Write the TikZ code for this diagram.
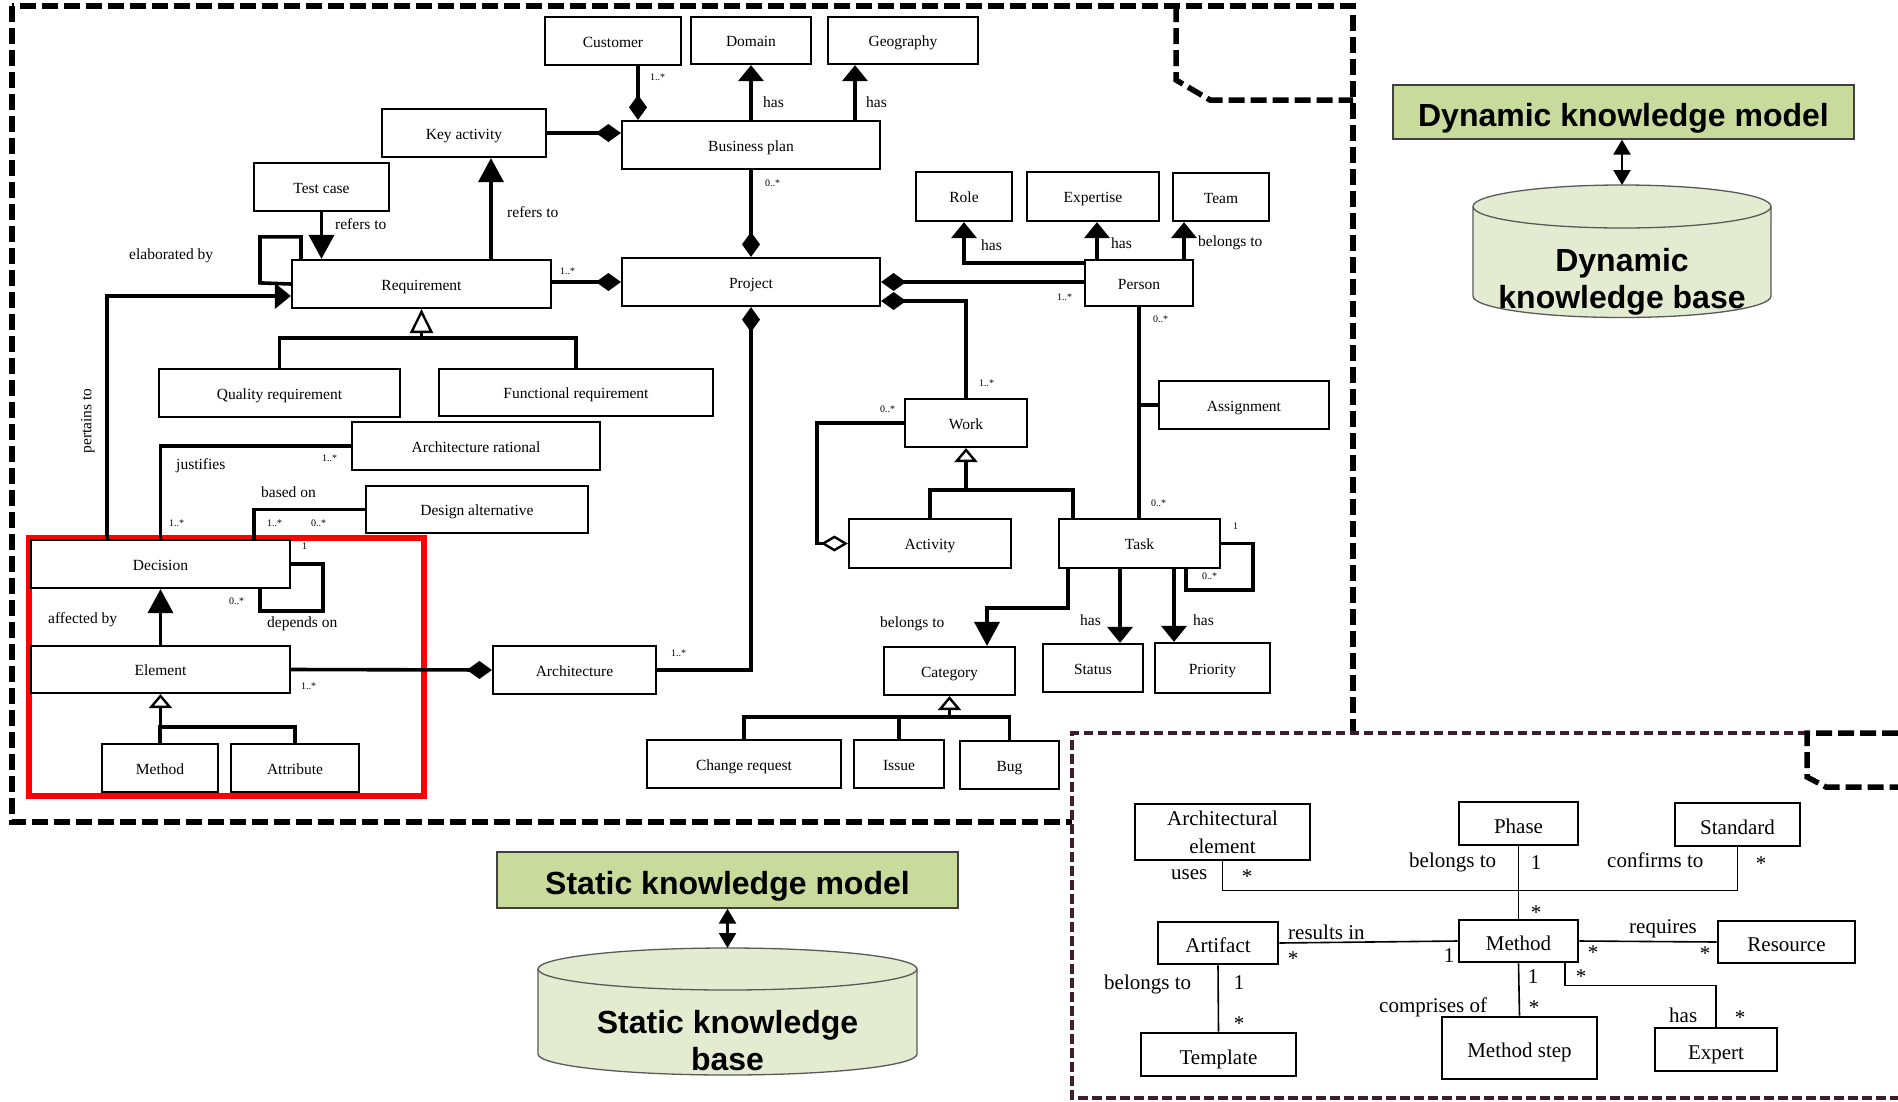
\documentclass[tikz,border=0pt]{standalone}
\usepackage{fontspec}
\setmainfont{Liberation Serif}
\newfontfamily\headfont{Liberation Sans}
\usetikzlibrary{arrows.meta}

\definecolor{kmfill}{RGB}{200,218,156}
\definecolor{kbfill}{RGB}{227,236,208}
\definecolor{mframecol}{RGB}{62,28,46}

\begin{document}
\begin{tikzpicture}[x=1pt,y=-1pt,
    cls/.style={draw,line width=2.2pt,fill=white,inner sep=0pt,text height=12pt,text depth=0pt,font=\fontsize{15.5}{18}\selectfont},
    mcls/.style={draw,line width=2.6pt,fill=white,inner sep=0pt,align=center,font=\fontsize{21}{28}\selectfont},
    mone/.style={mcls,text height=19pt,text depth=0pt},
    km/.style={draw=black!75,line width=1.3pt,fill=kmfill,inner sep=0pt,text height=28pt,text depth=0pt,font=\headfont\bfseries\fontsize{32}{37}\selectfont},
    kbtext/.style={inner sep=0pt,align=center,font=\headfont\bfseries\fontsize{32}{37}\selectfont},
    lbl/.style={inner sep=0pt,anchor=west,font=\fontsize{15.5}{18}\selectfont},
    mult/.style={inner sep=0pt,anchor=west,font=\fontsize{10}{12}\selectfont},
    mlbl/.style={inner sep=0pt,anchor=west,font=\fontsize{21}{25}\selectfont},
    mnum/.style={inner sep=0pt,font=\fontsize{21}{25}\selectfont},
    rel/.style={line width=3.6pt},
    mrel/.style={line width=1.6pt},
    tip/.style={rel,-{Triangle[length=24pt,width=25pt]}},
    stip/.style={rel,-{Triangle[length=16pt,width=25pt]}},
    comp/.style={rel,{Diamond[length=25pt,width=18pt]}-},
    agg/.style={rel,{Diamond[open,length=27pt,width=16pt,line width=2.4pt,fill=white]}-},
    gen/.style={rel,-{Triangle[open,length=14pt,width=23pt,line width=2.4pt,fill=white]}},
    tallgen/.style={rel,-{Triangle[open,length=24pt,width=23pt,line width=2.4pt,fill=white]}},
    frame/.style={line width=5.5pt,dash pattern=on 16pt off 6pt},
    mframe/.style={draw=mframecol,line width=3.5pt,dash pattern=on 9.5pt off 4.5pt},
    kbarrow/.style={line width=2.5pt,{Triangle[length=15pt,width=17pt]}-{Triangle[length=15pt,width=17pt]}}
  ]
  \useasboundingbox (0,0) rectangle (1898,1101);

  % Frames
  \draw[frame] (12,6) rectangle (1353,822);
  \draw[frame] (1176,6) -- (1176,80) -- (1210,100) -- (1353,100);
  \draw[red,line width=6pt] (29,538) rectangle (424,796);
  \fill[white] (1072,733) rectangle (1898,1101);
  \draw[mframe] (1807,733) -- (1072,733) -- (1072,1098) -- (1898,1098);
  \draw[frame] (1898,733) -- (1807,733) -- (1807,777) -- (1826,787) -- (1898,787);

  % Nodes
  \node[cls,minimum width=136pt,minimum height=48pt] (customer) at (613,41) {Customer};
  \node[cls,minimum width=120pt,minimum height=47pt] (domain) at (751,40.5) {Domain};
  \node[cls,minimum width=150pt,minimum height=47pt] (geography) at (903,40.5) {Geography};
  \node[cls,minimum width=258pt,minimum height=48pt] (bplan) at (751,145) {Business plan};
  \node[cls,minimum width=164pt,minimum height=48pt] (keyact) at (464,133) {Key activity};
  \node[cls,minimum width=135pt,minimum height=48pt] (testcase) at (321.5,187) {Test case};
  \node[cls,minimum width=259pt,minimum height=48pt] (req) at (421.5,284) {Requirement};
  \node[cls,minimum width=258pt,minimum height=48pt] (proj) at (751,282) {Project};
  \node[cls,minimum width=96pt,minimum height=49pt] (role) at (964,196.5) {Role};
  \node[cls,minimum width=132pt,minimum height=49pt] (expertise) at (1093,196.5) {Expertise};
  \node[cls,minimum width=96pt,minimum height=48pt] (team) at (1221,197) {Team};
  \node[cls,minimum width=108pt,minimum height=46pt] (person) at (1139,283) {Person};
  \node[cls,minimum width=241pt,minimum height=48pt] (qualreq) at (279.5,393) {Quality requirement};
  \node[cls,minimum width=274pt,minimum height=47pt] (funcreq) at (576,392.5) {Functional requirement};
  \node[cls,minimum width=248pt,minimum height=48pt] (archrat) at (476,446) {Architecture rational};
  \node[cls,minimum width=222pt,minimum height=47pt] (designalt) at (477,509.5) {Design alternative};
  \node[cls,minimum width=170pt,minimum height=48pt] (assign) at (1244,405) {Assignment};
  \node[cls,minimum width=122pt,minimum height=48pt] (work) at (966,423) {Work};
  \node[cls,minimum width=162pt,minimum height=49pt] (activity) at (930,543.5) {Activity};
  \node[cls,minimum width=161pt,minimum height=49pt] (task) at (1139.5,543.5) {Task};
  \node[cls,minimum width=259pt,minimum height=48pt] (decision) at (160.5,564) {Decision};
  \node[cls,minimum width=259pt,minimum height=47pt] (element) at (160.5,669.5) {Element};
  \node[cls,minimum width=116pt,minimum height=48pt] (method) at (160,768) {Method};
  \node[cls,minimum width=128pt,minimum height=48pt] (attribute) at (295,768) {Attribute};
  \node[cls,minimum width=163pt,minimum height=48pt] (architecture) at (574.5,670) {Architecture};
  \node[cls,minimum width=131pt,minimum height=48pt] (category) at (949.5,671) {Category};
  \node[cls,minimum width=100pt,minimum height=48pt] (status) at (1093,668) {Status};
  \node[cls,minimum width=115pt,minimum height=50pt] (priority) at (1212.5,668) {Priority};
  \node[cls,minimum width=194pt,minimum height=48pt] (changereq) at (744,764) {Change request};
  \node[cls,minimum width=90pt,minimum height=48pt] (issue) at (899,764) {Issue};
  \node[cls,minimum width=99pt,minimum height=48pt] (bug) at (1009.5,765) {Bug};

  \node[mcls,minimum width=175pt,minimum height=56pt] (archelem) at (1222.5,832) {Architectural\\element};
  \node[mone,minimum width=119pt,minimum height=43pt] (phase) at (1518.5,823.5) {Phase};
  \node[mone,minimum width=125pt,minimum height=43pt] (standard) at (1737.5,824.5) {Standard};
  \node[mone,minimum width=119pt,minimum height=42pt] (mmethod) at (1518.5,941) {Method};
  \node[mone,minimum width=120pt,minimum height=42pt] (artifact) at (1218,943) {Artifact};
  \node[mone,minimum width=137pt,minimum height=42pt] (resource) at (1786.5,942) {Resource};
  \node[mone,minimum width=155pt,minimum height=62pt] (methodstep) at (1519.5,1048) {Method step};
  \node[mone,minimum width=122pt,minimum height=43pt] (expert) at (1716,1049.5) {Expert};
  \node[mone,minimum width=155pt,minimum height=43pt] (template) at (1218.5,1054.5) {Template};

  \node[km,minimum width=461pt,minimum height=56pt] (skm) at (727.5,880) {Static knowledge model};
  \node[km,minimum width=461pt,minimum height=54pt] (dkm) at (1623.5,112) {Dynamic knowledge model};

  % Knowledge bases
  \path[draw=black!65,fill=kbfill,line width=1.3pt] (538,969) -- (538,1054)
    arc[start angle=180,end angle=0,x radius=189.5,y radius=21] -- (917,969)
    arc[start angle=0,end angle=-180,x radius=189.5,y radius=21] -- cycle;
  \draw[black!65,line width=1.3pt] (538,969) arc[start angle=180,end angle=0,x radius=189.5,y radius=21];
  \coordinate (skbtop) at (727.5,948);
  \node[kbtext] (skb) at (727.5,1041) {Static knowledge\\base};

  \path[draw=black!65,fill=kbfill,line width=1.3pt] (1473,206.5) -- (1473,296)
    arc[start angle=180,end angle=0,x radius=149,y radius=21.5] -- (1771,206.5)
    arc[start angle=0,end angle=-180,x radius=149,y radius=21.5] -- cycle;
  \draw[black!65,line width=1.3pt] (1473,206.5) arc[start angle=180,end angle=0,x radius=149,y radius=21.5];
  \coordinate (dkbtop) at (1622,185);
  \node[kbtext] (dkb) at (1622,282) {Dynamic\\knowledge base};

  \draw[kbarrow] (skm.south) -- (skbtop);
  \draw[kbarrow] ([xshift=-1.5pt]dkm.south) -- (dkbtop);

  % Edges
  \draw[tip] (testcase.south) -- (testcase.south |- req.north);
  \draw[tip] ([xshift=69.5pt]req.north) -- ([xshift=27pt]keyact.south);
  \draw[comp] ([yshift=12pt]bplan.west) -- (keyact.east);
  \draw[comp] ([xshift=-113pt]bplan.north) -- ([xshift=25pt]customer.south);
  \draw[stip] (bplan.north) -- (domain.south);
  \draw[stip] ([xshift=104pt]bplan.north) -- ([xshift=-48pt]geography.south);
  \draw[comp] (proj.north) -- (bplan.south);
  \draw[comp] (proj.west) -- (proj.west -| req.east);
  \draw[comp] (proj.east) -- (proj.east -| person.west);
  \draw[stip] ([yshift=20pt]person.west) -| (role.south);
  \draw[stip] ([xshift=-42pt]person.north) -- ([xshift=4pt]expertise.south);
  \draw[stip] ([xshift=45pt]person.north) -- ([xshift=-37pt]team.south);
  \draw[comp] ([yshift=-19pt]proj.east) -| (work.north);
  \draw[comp] (proj.south) |- (architecture.east);
  \draw[rel] (person.south) -- (person.south |- task.north);
  \draw[rel] (assign.west) -- (assign.west -| person.south);
  \draw[agg] (activity.west) -- ++(-31,0) |- (work.west);
  \draw[rel] (activity.north) -- ++(0,-28) -| ([xshift=-66.5pt]task.north);
  \draw[gen] ([yshift=-44pt]work.south) -- (work.south);
  \draw[tip] ([xshift=-71.5pt]task.south) -- ++(0,39) -| ([xshift=37.5pt]category.north);
  \draw[rel] (changereq.north) -- ++(0,-22) -| (bug.north);
  \draw[rel] (issue.north) -- ++(0,-22);
  \draw[gen] ([yshift=-23pt]category.south) -- (category.south);
  \draw[stip] ([xshift=-19.5pt]task.south) -- ([xshift=27pt]status.north);
  \draw[stip] ([xshift=34.5pt]task.south) -- ([xshift=-38.5pt]priority.north);
  \draw[rel] (task.east) -| ++(32,46.5) -| ([xshift=46.5pt]task.south);
  \draw[rel] ([xshift=-120.5pt]req.north) -- ++(0,-22) -| ++(-41,46) -- (req.west);
  \draw[stip] ([xshift=-53.5pt]decision.north) |- ([yshift=-12pt]req.west);
  \draw[rel] (qualreq.north) -- ++(0,-30) -| (funcreq.north);
  \draw[tallgen] ([yshift=-31pt]req.south) -- (req.south);
  \draw[rel] (archrat.west) -| (decision.north);
  \draw[rel] (designalt.west) -| ([xshift=93.5pt]decision.north);
  \draw[rel] (decision.east) -| ++(32,47) -| ([xshift=99.5pt]decision.south);
  \draw[tip] (element.north) -- (decision.south);
  \draw[comp] (architecture.west) -- (element.east);
  \draw[rel] (method.north) -- ++(0,-16) -| (attribute.north);
  \draw[gen] ([yshift=-35pt]element.south) -- (element.south);

  \draw[mrel] (archelem.south) -- ++(0,29) -| (standard.south);
  \draw[mrel] (phase.south) -- (mmethod.north);
  \draw[mrel] (artifact.east) -- (mmethod.west);
  \draw[mrel] (mmethod.east) -- (resource.west);
  \draw[mrel] (mmethod.south) -- (methodstep.north);
  \draw[mrel] ([xshift=46.5pt]mmethod.south) -- ++(0,22) -| (expert.north);
  \draw[mrel] (artifact.south) -- (template.north);

  % Labels
  \node[lbl] (t01) at (335,224) {refers to};
  \node[lbl] (t02) at (507,212) {refers to};
  \node[lbl] (t03) at (129,256) {elaborated by};
  \node[lbl] (t04) at (763,102) {has};
  \node[lbl] (t05) at (866,102) {has};
  \node[lbl] (t06) at (981,245) {has};
  \node[lbl] (t07) at (1111,243) {has};
  \node[lbl] (t08) at (1198,243) {belongs to};
  \node[lbl] (t09) at (176,466) {justifies};
  \node[lbl] (t10) at (261,492) {based on};
  \node[lbl] (t11) at (267,624) {depends on};
  \node[lbl] (t12) at (48,620) {affected by};
  \node[lbl] (t13) at (880,624) {belongs to};
  \node[lbl] (t14) at (1080,620) {has};
  \node[lbl] (t15) at (1193,620) {has};
  \node[lbl,anchor=center,rotate=90] (t16) at (88,421) {pertains to};

  \node[mult] (m01) at (650,77) {1..*};
  \node[mult] (m02) at (765,183) {0..*};
  \node[mult] (m03) at (560,271) {1..*};
  \node[mult] (m04) at (1057,297) {1..*};
  \node[mult] (m05) at (1153,319) {0..*};
  \node[mult] (m06) at (979,383) {1..*};
  \node[mult] (m07) at (880,409) {0..*};
  \node[mult] (m08) at (1151,503) {0..*};
  \node[mult] (m09) at (1233,526) {1};
  \node[mult] (m10) at (1202,576) {0..*};
  \node[mult] (m11) at (322,458) {1..*};
  \node[mult] (m12) at (169,523) {1..*};
  \node[mult] (m13) at (267,523) {1..*};
  \node[mult] (m14) at (311,523) {0..*};
  \node[mult] (m15) at (302,546) {1};
  \node[mult] (m16) at (229,601) {0..*};
  \node[mult] (m17) at (301,686) {1..*};
  \node[mult] (m18) at (671,653) {1..*};

  \node[mlbl] (u01) at (1171,875) {uses};
  \node[mlbl] (u02) at (1409,862) {belongs to};
  \node[mlbl] (u03) at (1607,860) {confirms to};
  \node[mlbl] (u04) at (1288,932) {results in};
  \node[mlbl] (u05) at (1629,929) {requires};
  \node[mlbl] (u06) at (1379,1007) {comprises of};
  \node[mlbl] (u07) at (1669,1015) {has};
  \node[mlbl] (u08) at (1104,984) {belongs to};

  \node[mnum] (n01) at (1247,877) {*};
  \node[mnum] (n02) at (1536,863) {1};
  \node[mnum] (n03) at (1761,864) {*};
  \node[mnum] (n04) at (1536,913) {*};
  \node[mnum] (n05) at (1293,959) {*};
  \node[mnum] (n06) at (1449,956) {1};
  \node[mnum] (n07) at (1593,953) {*};
  \node[mnum] (n08) at (1705,954) {*};
  \node[mnum] (n09) at (1533,977) {1};
  \node[mnum] (n10) at (1534,1008) {*};
  \node[mnum] (n11) at (1581,977) {*};
  \node[mnum] (n12) at (1740,1018) {*};
  \node[mnum] (n13) at (1239,983) {1};
  \node[mnum] (n14) at (1239,1024) {*};

\end{tikzpicture}
\end{document}
